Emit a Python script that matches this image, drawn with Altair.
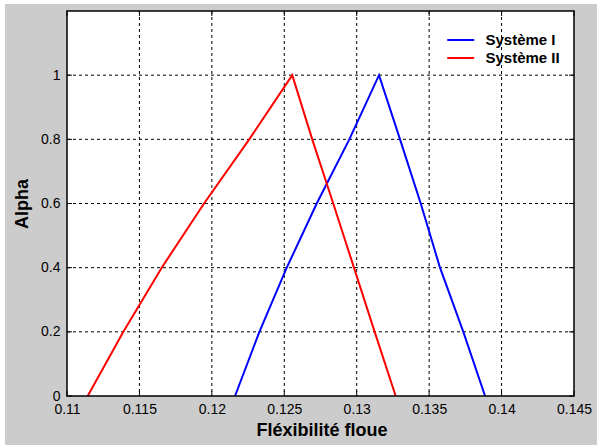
import altair as alt
import pandas as pd

# ---- data ----
series_names = ["Système I", "Système II"]
series_colors = ["#0000ff", "#ff0000"]

alpha = [0.0, 0.2, 0.4, 0.6, 0.8, 1.0, 0.8, 0.6, 0.4, 0.2, 0.0]
sys1_x = [0.12160, 0.12328, 0.12517, 0.12724, 0.12949, 0.13154,
          0.13299, 0.13442, 0.13575, 0.13736, 0.13886]
sys2_x = [0.11143, 0.11389, 0.11654, 0.11946, 0.12258, 0.12555,
          0.12693, 0.12838, 0.12981, 0.13124, 0.13269]

x_ticks = [0.11, 0.115, 0.12, 0.125, 0.13, 0.135, 0.14, 0.145]
y_ticks = [0, 0.2, 0.4, 0.6, 0.8, 1]
x_grid = [0.115, 0.12, 0.125, 0.13, 0.135, 0.14]
y_grid = [0.2, 0.4, 0.6, 0.8, 1.0]

rows = []
for name, xs in zip(series_names, [sys1_x, sys2_x]):
    for i, (xv, av) in enumerate(zip(xs, alpha)):
        rows.append({"serie": name, "x": xv, "alpha": av, "step": i})
df = pd.DataFrame(rows)

W, H = 507, 385
FONT = "Liberation Sans"

xscale = alt.Scale(domain=[0.11, 0.145], nice=False, zero=False)
yscale = alt.Scale(domain=[0, 1.2], nice=False, zero=False)

x_axis = alt.Axis(values=x_ticks, format="~g", title="Fléxibilité floue",
                  domain=False, ticks=False, tickSize=0, grid=False,
                  labelFlush=False, labelOverlap=False, labelBound=False,
                  labelFont=FONT, labelFontSize=14, labelColor="black",
                  labelPadding=6,
                  titleFont=FONT, titleFontSize=18, titleFontWeight="bold",
                  titleColor="black", titleX=254.5, titleY=39,
                  titleBaseline="alphabetic", titleAlign="center", zindex=1)
y_axis = alt.Axis(values=y_ticks, format="~g", title="Alpha",
                  domain=False, ticks=False, tickSize=0, grid=False,
                  labelOverlap=False, labelFlush=False,
                  labelFont=FONT, labelFontSize=14, labelColor="black",
                  labelPadding=7,
                  titleFont=FONT, titleFontSize=18, titleFontWeight="bold",
                  titleColor="black", titleX=-40, titleY=192.5,
                  titleAngle=270, titleBaseline="alphabetic",
                  titleAlign="center", zindex=1)

one = alt.Data(values=[{}])

# background (figure gray) and white axes area
bg = alt.Chart(one).mark_rect(color="#cccccc").encode(
    x=alt.value(-62), x2=alt.value(530), y=alt.value(-7), y2=alt.value(434))
plotbg = alt.Chart(one).mark_rect(color="white").encode(
    x=alt.value(0), x2=alt.value(W), y=alt.value(0), y2=alt.value(H))

# dashed grid
gx = alt.Chart(pd.DataFrame({"x": x_grid})).mark_rule(
    color="black", strokeWidth=1, strokeDash=[3, 3]).encode(
    x=alt.X("x:Q", scale=xscale, axis=x_axis))
gy = alt.Chart(pd.DataFrame({"alpha": y_grid})).mark_rule(
    color="black", strokeWidth=1, strokeDash=[3, 3]).encode(
    y=alt.Y("alpha:Q", scale=yscale, axis=y_axis))

# inward ticks
tdx = pd.DataFrame({"x": x_ticks})
tdy = pd.DataFrame({"alpha": y_ticks})
tb = alt.Chart(tdx).mark_rule(color="black").encode(
    x=alt.X("x:Q", scale=xscale, axis=x_axis), y=alt.value(H), y2=alt.value(H - 5))
tt = alt.Chart(tdx).mark_rule(color="black").encode(
    x=alt.X("x:Q", scale=xscale, axis=x_axis), y=alt.value(0), y2=alt.value(5))
tl = alt.Chart(tdy).mark_rule(color="black").encode(
    y=alt.Y("alpha:Q", scale=yscale, axis=y_axis), x=alt.value(0), x2=alt.value(5))
tr = alt.Chart(tdy).mark_rule(color="black").encode(
    y=alt.Y("alpha:Q", scale=yscale, axis=y_axis), x=alt.value(W - 5), x2=alt.value(W))

lines = alt.Chart(df).mark_line(strokeWidth=2).encode(
    x=alt.X("x:Q", scale=xscale, axis=x_axis),
    y=alt.Y("alpha:Q", scale=yscale, axis=y_axis),
    color=alt.Color("serie:N",
                    scale=alt.Scale(domain=series_names, range=series_colors),
                    legend=alt.Legend(orient="none", legendX=385.75, legendY=21,
                                      title=None, symbolType="M-2,0H2",
                                      symbolSize=182, symbolStrokeWidth=2,
                                      labelFont=FONT, labelFontSize=15,
                                      labelFontWeight="bold", labelColor="black",
                                      labelOffset=16.75, padding=0, rowPadding=2,
                                      zindex=1)),
    order=alt.Order("step:Q"),
)

border = alt.Chart(one).mark_rect(fillOpacity=0, stroke="black", strokeWidth=1.5).encode(
    x=alt.value(0), x2=alt.value(W), y=alt.value(0), y2=alt.value(H))

chart = alt.layer(bg, plotbg, gx, gy, tb, tt, tl, tr, lines, border).properties(
    width=W, height=H,
    autosize=alt.AutoSizeParams(type="none"),
    padding={"left": 67, "top": 11, "right": 23, "bottom": 49},
).configure(background="white").configure_view(strokeWidth=0)

chart.save("out.html", embed_options={"renderer": "svg", "actions": False})
